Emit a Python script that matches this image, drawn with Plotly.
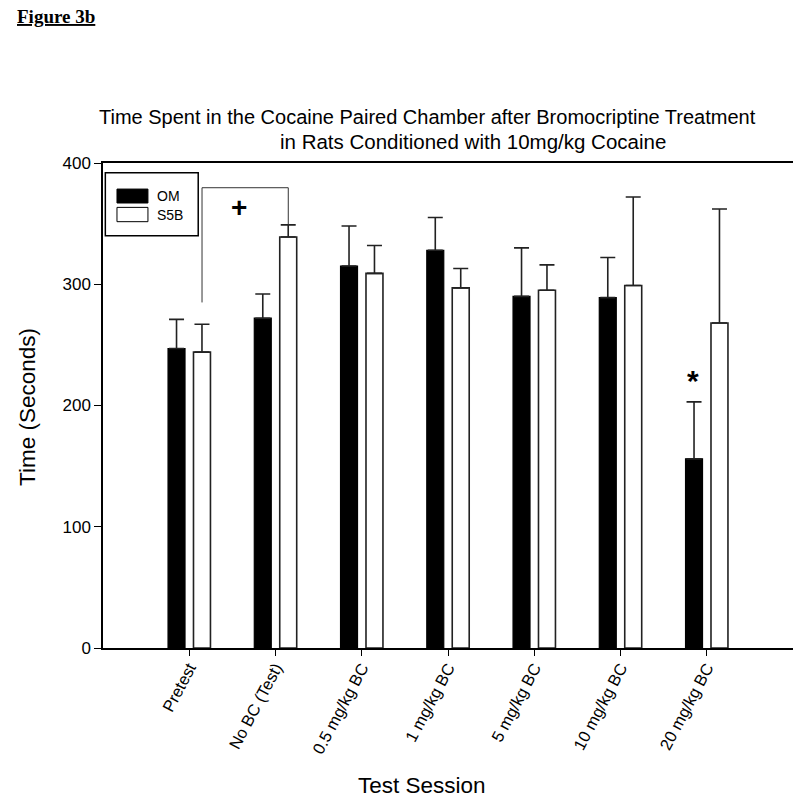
import plotly.graph_objects as go

sessions = ["Pretest", "No BC (Test)", "0.5 mg/kg BC", "1 mg/kg BC",
            "5 mg/kg BC", "10 mg/kg BC", "20 mg/kg BC"]
om_mean = [247, 272, 315, 328, 290, 289, 156]
om_sem = [24, 20, 33, 27, 40, 33, 47]
s5b_mean = [244, 339, 309, 297, 295, 299, 268]
s5b_sem = [23, 10, 23, 16, 21, 73, 94]

FONT = "Arial, Liberation Sans, sans-serif"

# plot-area geometry in pixels (for placing text annotations)
L, T, R, B = 103, 163, 793, 648
W, H = R - L, B - T


def px(xp):
    return (xp - L) / W


def py(yp):
    return (B - yp) / H


fig = go.Figure()
fig.add_trace(go.Bar(
    x=sessions, y=om_mean, name="OM",
    marker=dict(color="black", line=dict(color="black", width=1.2)),
    error_y=dict(type="data", symmetric=False, array=om_sem,
                 arrayminus=[0] * len(om_sem), color="#222", thickness=1.6, width=7.5),
))
fig.add_trace(go.Bar(
    x=sessions, y=s5b_mean, name="S5B",
    marker=dict(color="white", line=dict(color="#222", width=1.6)),
    error_y=dict(type="data", symmetric=False, array=s5b_sem,
                 arrayminus=[0] * len(s5b_sem), color="#222", thickness=1.6, width=7.5),
))

fig.update_layout(
    width=800, height=799,
    margin=dict(l=L, r=800 - R, t=T, b=799 - B, autoexpand=False),
    paper_bgcolor="white", plot_bgcolor="white",
    barmode="group", bargap=0.41, bargroupgap=0.333,
    showlegend=False,
    font=dict(family=FONT, color="black"),
)
fig.update_xaxes(
    type="category", range=[-1, 7],
    showline=True, linecolor="black", linewidth=1.5, mirror=True,
    ticks="outside", ticklen=6, tickwidth=1.2, tickcolor="black",
    tickangle=-62, tickfont=dict(size=16.5, family=FONT), ticklabelstandoff=-4,
    showgrid=False, zeroline=False,
)
fig.update_yaxes(
    range=[0, 400], tickvals=[0, 100, 200, 300, 400],
    showline=True, linecolor="black", linewidth=1.5,
    ticks="outside", ticklen=7, tickwidth=1.2, tickcolor="black",
    tickfont=dict(size=17, family=FONT),
    showgrid=False, zeroline=False,
)

# axis titles
fig.add_annotation(x=px(27), y=py(407), xref="paper", yref="paper", text="Time (Seconds)",
                   textangle=-90, showarrow=False, xanchor="center", yanchor="middle",
                   font=dict(size=22.5, family=FONT, color="black"))
fig.add_annotation(x=px(422), y=py(786), xref="paper", yref="paper", text="Test Session",
                   showarrow=False, xanchor="center", yanchor="middle",
                   font=dict(size=22.5, family=FONT, color="black"))

# significance bracket between Pretest S5B and No BC S5B
bx0, bx1 = 0.148, 1.148
btop = 379.6
fig.add_shape(type="path", xref="x", yref="y",
              path=f"M {bx0} 285 L {bx0} {btop} L {bx1} {btop} L {bx1} {s5b_mean[1] + s5b_sem[1]}",
              line=dict(color="#333", width=1))
fig.add_annotation(x=0.58, y=363, xref="x", yref="y", text="<b>+</b>", showarrow=False,
                   font=dict(size=28, family=FONT, color="black"))
fig.add_annotation(x=5.84, y=221, xref="x", yref="y", text="<b>*</b>", showarrow=False,
                   font=dict(size=30, family=FONT, color="black"))

# legend box drawn manually
fig.add_shape(type="rect", xref="x", yref="y", x0=-0.973, x1=0.104, y0=340, y1=392,
              line=dict(color="black", width=1.5), fillcolor="white")
fig.add_shape(type="rect", xref="x", yref="y", x0=-0.838, x1=-0.479, y0=367, y1=378.5,
              line=dict(color="black", width=1), fillcolor="black")
fig.add_shape(type="rect", xref="x", yref="y", x0=-0.838, x1=-0.479, y0=351.6, y1=363.4,
              line=dict(color="black", width=1), fillcolor="white")
fig.add_annotation(x=-0.40, y=373, xref="x", yref="y", text="OM", showarrow=False,
                   xanchor="left", font=dict(size=14, family=FONT, color="black"))
fig.add_annotation(x=-0.40, y=357.5, xref="x", yref="y", text="S5B", showarrow=False,
                   xanchor="left", font=dict(size=14, family=FONT, color="black"))

# chart titles
fig.add_annotation(x=px(97), y=py(117), xref="paper", yref="paper",
                   text="Time Spent in the Cocaine Paired Chamber after Bromocriptine Treatment",
                   showarrow=False, xanchor="left", yanchor="middle",
                   font=dict(size=20, family=FONT, color="black"))
fig.add_annotation(x=px(278), y=py(142), xref="paper", yref="paper",
                   text="in Rats Conditioned with 10mg/kg Cocaine",
                   showarrow=False, xanchor="left", yanchor="middle",
                   font=dict(size=20.5, family=FONT, color="black"))
fig.add_annotation(x=px(15), y=py(17), xref="paper", yref="paper",
                   text="<b><u>Figure 3b</u></b>", showarrow=False, xanchor="left", yanchor="middle",
                   font=dict(size=19, family="Times New Roman, Liberation Serif, serif", color="black"))

fig.write_html("out.html", config={"displayModeBar": False})
with open("out.html", encoding="utf-8") as f:
    html = f.read()
html = html.replace("<body>", '<body style="margin:0;padding:0;overflow:hidden">', 1)
with open("out.html", "w", encoding="utf-8") as f:
    f.write(html)
